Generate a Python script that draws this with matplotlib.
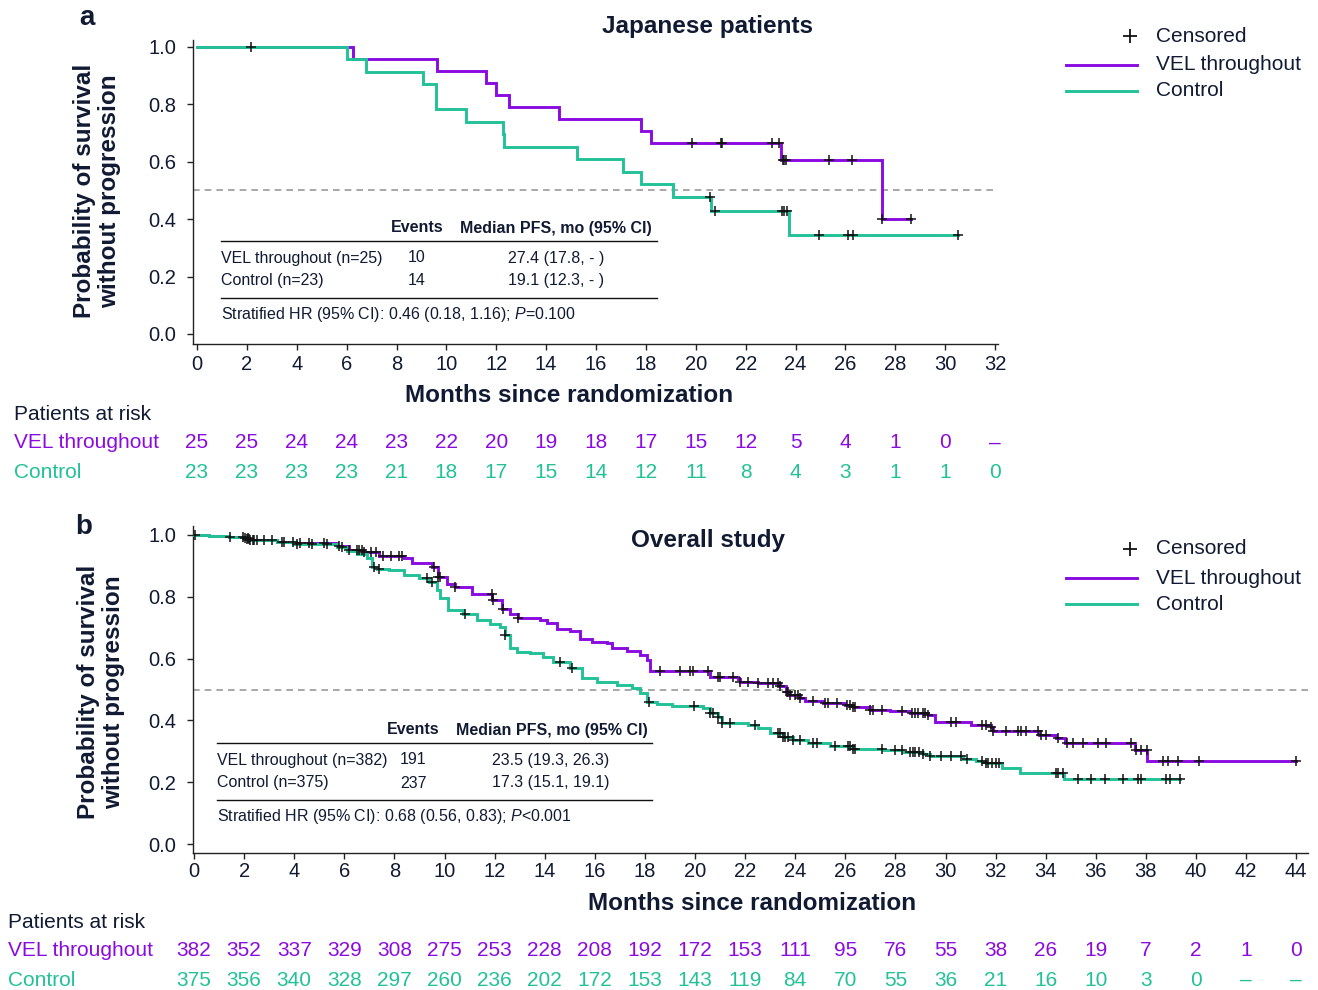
import numpy as np
import matplotlib
matplotlib.use('Agg')
import matplotlib.pyplot as plt
from matplotlib.lines import Line2D
from matplotlib import transforms

plt.rcParams['font.family'] = ['Liberation Sans', 'DejaVu Sans']
plt.rcParams['mathtext.fontset'] = 'custom'
plt.rcParams['mathtext.rm'] = 'Liberation Sans'
plt.rcParams['mathtext.it'] = 'Liberation Sans:italic'

PURPLE = '#8a0be0'
GREEN = '#22c197'
DARK = '#111a33'

# ---------------- Panel a: Japanese patients ----------------
a_vel_t = [0, 6.27, 9.64, 11.6, 12.0, 12.5, 14.5, 17.8, 18.2, 23.4, 27.48]
a_vel_s = [1.0, 0.958, 0.917, 0.875, 0.833, 0.792, 0.75, 0.708, 0.667, 0.606, 0.40]
a_vel_c = [2.15, 19.86, 21.0, 21.06, 23.04, 23.33, 23.5, 23.55, 23.6, 25.35, 26.27, 27.48, 28.63]

a_ctl_t = [0, 6.0, 6.78, 9.08, 9.57, 10.79, 12.26, 12.3, 15.25, 17.07, 17.8, 19.1, 20.6, 23.74]
a_ctl_s = [1.0, 0.957, 0.913, 0.870, 0.783, 0.739, 0.696, 0.652, 0.609, 0.565, 0.522, 0.478, 0.430, 0.344]
a_ctl_c = [20.57, 20.77, 23.44, 23.54, 23.64, 24.94, 26.1, 26.3, 30.53]

a_ticks = list(range(0, 33, 2))
a_risk_vel = ['25', '25', '24', '24', '23', '22', '20', '19', '18', '17', '15', '12', '5', '4', '1', '0', '–']
a_risk_ctl = ['23', '23', '23', '23', '21', '18', '17', '15', '14', '12', '11', '8', '4', '3', '1', '1', '0']

# ---------------- Panel b: Overall study ----------------
b_vel_t = [0, 0.6, 1.4, 2.0, 2.2, 3.3, 4.0, 5.7, 6.2, 6.8, 7.4, 8.4, 8.7, 9.5, 9.75, 10.1, 10.4,
           11.1, 11.9, 12.3, 12.6, 12.95, 13.8, 14.1, 14.5, 15.0, 15.4, 15.9, 16.5, 16.7, 17.3,
           17.8, 18.1, 18.2, 20.6, 21.7, 21.8, 22.5, 23.4, 23.65, 23.8, 24.2, 24.4, 25.1, 26.0,
           26.3, 27.0, 27.8, 28.6, 29.3, 29.6, 31.0, 31.8, 31.9, 33.75, 34.4, 34.77, 37.56, 38.06]
b_vel_s = [1.0, 0.997, 0.993, 0.989, 0.984, 0.978, 0.973, 0.965, 0.951, 0.944, 0.933, 0.924, 0.908,
           0.897, 0.865, 0.84, 0.831, 0.808, 0.79, 0.76, 0.744, 0.732, 0.725, 0.714, 0.695, 0.69,
           0.665, 0.655, 0.65, 0.633, 0.626, 0.612, 0.595, 0.56, 0.539, 0.533, 0.525, 0.52, 0.511,
           0.493, 0.482, 0.471, 0.463, 0.457, 0.45, 0.442, 0.434, 0.43, 0.423, 0.417, 0.396,
           0.385, 0.38, 0.367, 0.353, 0.342, 0.328, 0.304, 0.269]
b_vel_c = [0.04, 1.97, 2.05, 2.15, 2.25, 2.35, 2.53, 3.1, 3.96, 4.24, 4.6, 5.2, 5.77, 6.2, 6.5, 6.6,
           6.7, 6.8, 7.05, 7.25, 7.55, 7.85, 8.2, 8.3, 9.6, 9.75, 9.82, 10.42, 11.88, 11.95, 12.35,
           12.95, 18.6, 19.4, 19.8, 19.93, 20.5, 20.9, 21.0, 21.5, 21.8, 22.1, 22.5, 22.9, 23.1,
           23.3, 23.4, 23.66, 23.73, 23.8, 24.0, 24.1, 24.2, 24.7, 25.2, 25.3, 25.66, 26.05, 26.2,
           26.3, 26.4, 27.0, 27.1, 27.45, 28.25, 28.65, 28.8, 28.9, 29.1, 29.2, 29.3, 30.2, 30.4,
           31.44, 31.6, 31.8, 31.9, 32.4, 32.9, 33.0, 33.2, 33.7, 33.8, 34.0, 34.5, 34.84, 35.1,
           35.5, 36.1, 36.4, 37.4, 37.6, 37.8, 38.05, 38.7, 38.9, 39.3, 40.1, 44.0]

b_ctl_t = [0, 0.6, 1.4, 2.0, 2.3, 3.3, 4.0, 5.7, 6.1, 6.5, 6.9, 7.1, 7.3, 7.8, 8.4, 9.0, 9.4, 9.7,
           9.82, 10.15, 10.75, 11.3, 11.8, 12.2, 12.42, 12.6, 12.9, 13.4, 13.95, 14.35, 15.0, 15.5,
           16.1, 16.9, 17.5, 17.8, 18.07, 18.5, 19.1, 20.3, 20.6, 20.9, 21.07, 22.1, 22.5, 23.0,
           23.5, 23.9, 24.5, 25.4, 26.3, 27.5, 28.3, 29.1, 29.4, 30.7, 31.2, 31.6, 32.24, 32.97, 34.73]
b_ctl_s = [1.0, 0.997, 0.993, 0.988, 0.983, 0.977, 0.972, 0.962, 0.948, 0.94, 0.924, 0.897, 0.89,
           0.887, 0.872, 0.86, 0.849, 0.822, 0.795, 0.757, 0.744, 0.725, 0.712, 0.703, 0.676, 0.633,
           0.622, 0.617, 0.606, 0.59, 0.569, 0.536, 0.525, 0.515, 0.504, 0.488, 0.46, 0.453, 0.447,
           0.439, 0.423, 0.41, 0.39, 0.385, 0.374, 0.36, 0.345, 0.337, 0.328, 0.317, 0.306, 0.304,
           0.299, 0.291, 0.285, 0.274, 0.268, 0.263, 0.245, 0.231, 0.209]
b_ctl_c = [1.45, 2.1, 2.2, 2.4, 2.8, 3.5, 3.6, 4.1, 4.7, 5.3, 5.9, 7.2, 7.4, 9.3, 9.5, 10.8, 12.42,
           14.6, 15.1, 18.15, 19.96, 20.6, 20.7, 20.9, 21.07, 21.4, 22.4, 23.3, 23.4, 23.5, 23.6,
           23.7, 23.9, 24.2, 24.7, 24.86, 25.6, 26.1, 26.2, 26.3, 26.4, 27.45, 28.0, 28.25, 28.6,
           28.7, 28.8, 28.95, 29.1, 29.4, 29.8, 30.2, 30.6, 30.85, 31.44, 31.6, 31.7, 31.85, 32.0,
           32.15, 34.4, 34.5, 34.7, 35.3, 35.8, 36.37, 37.1, 37.7, 37.8, 38.8, 38.96, 39.36]

b_ticks = list(range(0, 45, 2))
b_risk_vel = ['382', '352', '337', '329', '308', '275', '253', '228', '208', '192', '172', '153',
              '111', '95', '76', '55', '38', '26', '19', '7', '2', '1', '0']
b_risk_ctl = ['375', '356', '340', '328', '297', '260', '236', '202', '172', '153', '143', '119',
              '84', '70', '55', '36', '21', '16', '10', '3', '0', '–', '–']

y_ticks = [0.0, 0.2, 0.4, 0.6, 0.8, 1.0]

# ---------------- Figure ----------------
W, H = 1318, 990
fig = plt.figure(figsize=(W / 100, H / 100), dpi=100)


def fx(px):
    return px / W


def fy(py):
    return 1 - py / H


def ftext(px, py, s, **kw):
    kw.setdefault('va', 'center')
    kw.setdefault('color', DARK)
    fig.text(fx(px), fy(py), s, **kw)


def km(ax, times, surv, cens, color):
    t = list(times) + [max(cens)]
    s = list(surv) + [surv[-1]]
    ax.step(t, s, where='post', color=color, lw=2.1, zorder=3, solid_joinstyle='miter')
    idx = np.searchsorted(np.asarray(times), np.asarray(cens), side='right') - 1
    cy = np.asarray(surv)[idx]
    ax.plot(cens, cy, ls='none', marker='+', color='#111111', ms=7.5, mew=1.1, zorder=4)


def setup(ax, ticks, xlim, ylim, xpad):
    ax.set_xlim(*xlim)
    ax.set_ylim(*ylim)
    ax.set_xticks(ticks)
    ax.set_yticks(y_ticks)
    ax.set_yticklabels([f'{v:.1f}' for v in y_ticks])
    for s in ['top', 'right']:
        ax.spines[s].set_visible(False)
    for s in ['left', 'bottom']:
        ax.spines[s].set_color('#222222')
        ax.spines[s].set_linewidth(1.0)
    ax.tick_params(axis='both', labelsize=14.5, colors='#222222', labelcolor=DARK,
                   length=4, width=1.0)
    ax.tick_params(axis='y', pad=8)
    ax.tick_params(axis='x', pad=xpad)
    ax.axhline(0.5, color='#9a9a9a', ls=(0, (4, 3)), lw=1.2, zorder=1)
    ax.patch.set_alpha(0)


# Panel a axes
axA = fig.add_axes([fx(193), fy(344), (997.6 - 193) / W, (344 - 39.8) / H])
setup(axA, a_ticks, (-0.16, 32.1), (-0.035, 1.025), 4)
km(axA, a_vel_t, a_vel_s, a_vel_c, PURPLE)
km(axA, a_ctl_t, a_ctl_s, a_ctl_c, GREEN)

# Panel b axes
axB = fig.add_axes([fx(193), fy(853.3), (1307.5 - 193) / W, (853.3 - 525.7) / H])
setup(axB, b_ticks, (-0.04, 44.45), (-0.03, 1.03), 2)
km(axB, b_vel_t, b_vel_s, b_vel_c, PURPLE)
km(axB, b_ctl_t, b_ctl_s, b_ctl_c, GREEN)

# Titles, labels, panel letters
bold = dict(fontweight='bold', fontsize=17.5)
ftext(708, 26, 'Japanese patients', ha='center', **bold)
ftext(708, 540, 'Overall study', ha='center', **bold)
ftext(87, 18, 'a', ha='center', fontweight='bold', fontsize=20)
ftext(84, 527, 'b', ha='center', fontweight='bold', fontsize=20)
ftext(569, 395, 'Months since randomization', ha='center', **bold)
ftext(752, 903, 'Months since randomization', ha='center', **bold)
ftext(97, 191, 'Probability of survival\nwithout progression', ha='center', rotation=90,
      linespacing=1.15, multialignment='center', **bold)
ftext(101, 692, 'Probability of survival\nwithout progression', ha='center', rotation=90,
      linespacing=1.15, multialignment='center', **bold)


# Legends
def legend(py0):
    fig.add_artist(Line2D([fx(1130)], [fy(py0)], marker='+', ms=10, mew=1.3, color='#111111',
                          ls='none', transform=fig.transFigure))
    ftext(1156, py0, 'Censored', fontsize=15)
    fig.add_artist(Line2D([fx(1066), fx(1137)], [fy(py0 + 29)] * 2, color=PURPLE, lw=2.1,
                          transform=fig.transFigure))
    ftext(1156, py0 + 29, 'VEL throughout', fontsize=15)
    fig.add_artist(Line2D([fx(1066), fx(1137)], [fy(py0 + 55)] * 2, color=GREEN, lw=2.1,
                          transform=fig.transFigure))
    ftext(1156, py0 + 55, 'Control', fontsize=15)


legend(36)
legend(549)


# Inner summary tables
def summary(x0, x1, yh, ev_x, med_x, rows, hr_text):
    fs = 11.5
    ftext(ev_x[0], yh, 'Events', fontweight='bold', fontsize=fs)
    ftext(ev_x[1], yh, 'Median PFS, mo (95% CI)', fontweight='bold', fontsize=fs)
    fig.add_artist(Line2D([fx(x0), fx(x1)], [fy(yh + 13)] * 2, color='#111111', lw=1.0,
                          transform=fig.transFigure))
    for i, (lab, ev, med) in enumerate(rows):
        yy = yh + 30 + 23 * i
        ftext(x0, yy, lab, fontsize=fs)
        ftext(med_x[0], yy, ev, fontsize=fs)
        ftext(med_x[1], yy, med, fontsize=fs)
    fig.add_artist(Line2D([fx(x0), fx(x1)], [fy(yh + 70)] * 2, color='#111111', lw=1.0,
                          transform=fig.transFigure))
    ftext(x0, yh + 86, hr_text, fontsize=fs)


summary(221, 657, 228, (391, 460), (408, 508),
        [('VEL throughout (n=25)', '10', '27.4 (17.8, - )'),
         ('Control (n=23)', '14', '19.1 (12.3, - )')],
        'Stratified HR (95% CI): 0.46 (0.18, 1.16); $\\mathit{P}$=0.100')
summary(217, 652, 730, (387, 456), (400, 492),
        [('VEL throughout (n=382)', '191', '23.5 (19.3, 26.3)'),
         ('Control (n=375)', '237', '17.3 (15.1, 19.1)')],
        'Stratified HR (95% CI): 0.68 (0.56, 0.83); $\\mathit{P}$<0.001')


# Risk tables
def risk(ax, x0, y0, ticks, vel, ctl):
    ftext(x0, y0, 'Patients at risk', fontsize=15)
    ftext(x0, y0 + 28, 'VEL throughout', fontsize=15, color=PURPLE)
    ftext(x0, y0 + 57, 'Control', fontsize=15, color=GREEN)
    tr = transforms.blended_transform_factory(ax.transData, fig.transFigure)
    for t, v, c in zip(ticks, vel, ctl):
        fig.text(t, fy(y0 + 28), v, transform=tr, ha='center', va='center', fontsize=15,
                 color=PURPLE)
        fig.text(t, fy(y0 + 57), c, transform=tr, ha='center', va='center', fontsize=15,
                 color=GREEN)


risk(axA, 14, 415, a_ticks, a_risk_vel, a_risk_ctl)
risk(axB, 8, 923, b_ticks, b_risk_vel, b_risk_ctl)

fig.savefig('out.png', dpi=100)
